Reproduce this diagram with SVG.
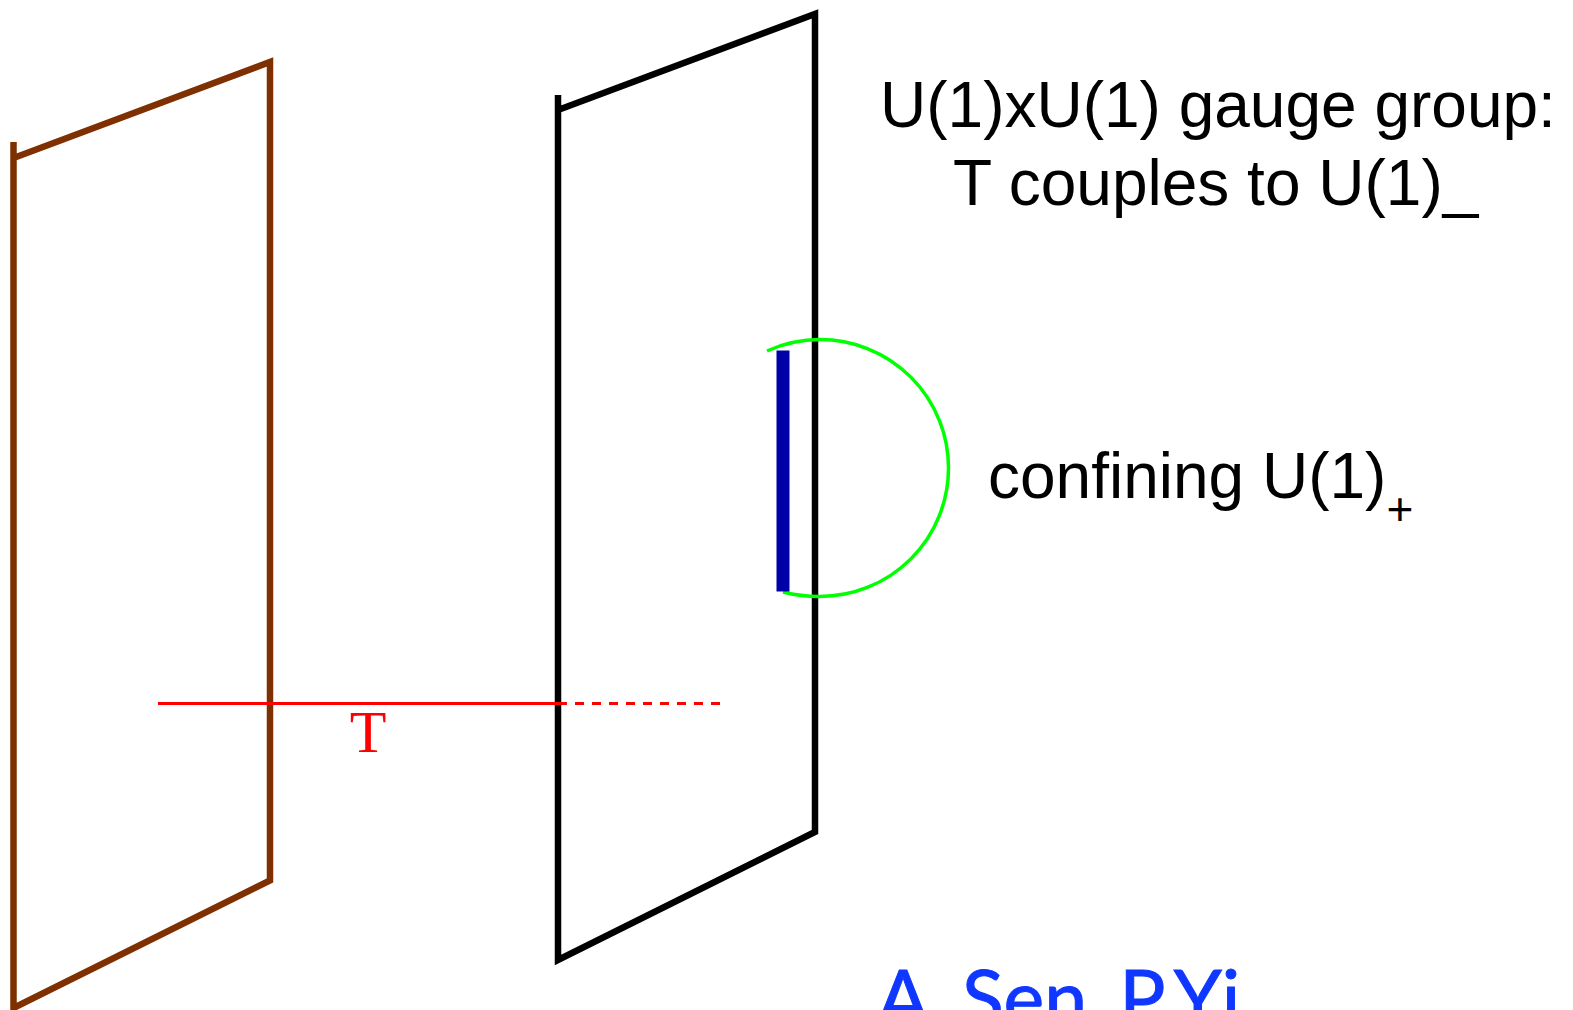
<svg xmlns="http://www.w3.org/2000/svg" width="1573" height="1010" viewBox="0 0 1573 1010">
<style>
.pl{fill:none;stroke-width:6.500;stroke-miterlimit:10}
.l{font-family:"Liberation Sans",Arial,sans-serif;font-size:64px;fill:#000}
.a{font-family:Lato,"Open Sans",sans-serif;font-size:77px;fill:#0f37ff;stroke:#0f37ff;stroke-width:1;word-spacing:-5px}
</style>
<rect width="1573" height="1010" fill="#fff"/>
<g id="brane-left"><path class="pl" stroke="#7f3000" d="M13.500 142V1008L270 880.500V62L13.500 158"/></g>
<g id="brane-right"><path class="pl" stroke="#000" d="M558 95V960L815 832V14L558 110"/></g>
<g id="connectors">
<path d="M158 703.500H558" stroke="#f00" stroke-width="3" fill="none"/>
<path d="M558 703.500H722" stroke="#f00" stroke-width="3" fill="none" stroke-dasharray="9 8"/>
<path d="M767 351A129 129 0 0 1 820 339.500A128.500 128.500 0 0 1 820 596.500Q800 596.500 783 592" stroke="#0f0" stroke-width="3.500" fill="none"/>
</g>
<g id="brane-bar"><rect x="776.500" y="350.500" width="13" height="241" fill="#0000a8"/></g>
<g id="label-t"><text x="368" y="752" text-anchor="middle" font-family="Liberation Serif,serif" font-size="60" fill="#f00">T</text></g>
<g id="label-gauge">
<text class="l" x="880" y="127">U(1)xU(1) gauge group:</text>
<text class="l" x="953" y="205">T couples to U(1)_</text>
</g>
<g id="label-confining"><text class="l" x="988" y="498">confining U(1)<tspan font-size="46" dy="27">+</tspan></text></g>
<g id="label-authors"><text class="a" x="877" y="1026">A. Sen, P.<tspan dx="4">Yi</tspan></text></g>
</svg>
